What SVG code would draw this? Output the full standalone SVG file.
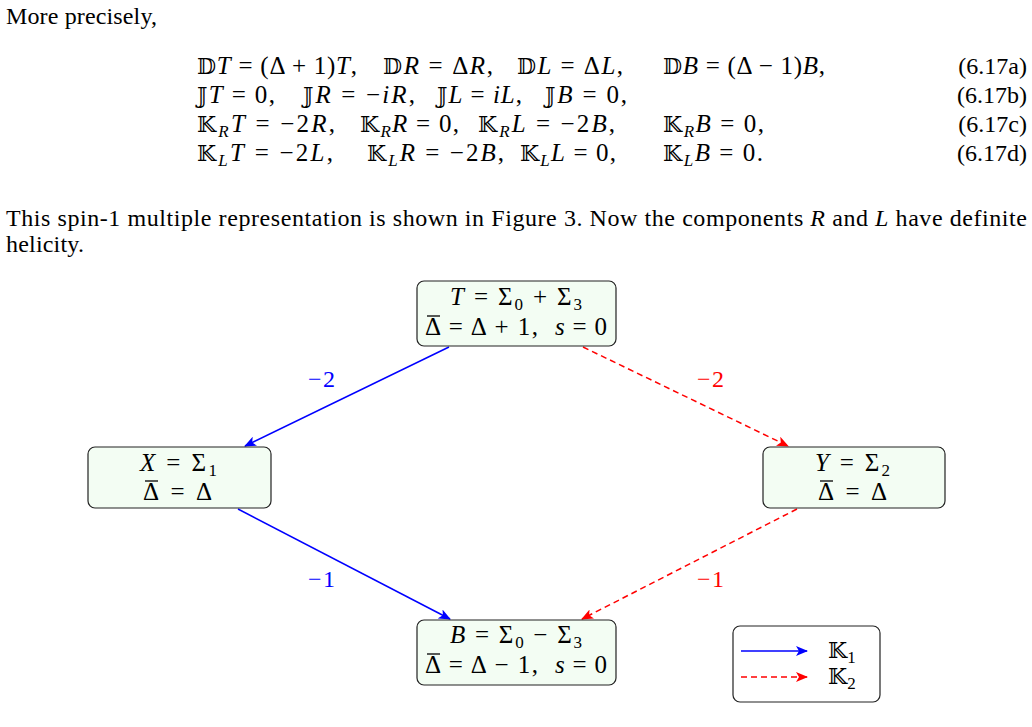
<svg xmlns="http://www.w3.org/2000/svg" width="1032" height="727" viewBox="0 0 1032 727">
<style>
text{font-family:"Liberation Serif","DejaVu Serif",serif;font-size:24px;fill:#000}
.m{font-size:25px}
.i{font-style:italic}
.bb{font-family:"DejaVu Serif","DejaVu Sans",serif;font-style:normal;font-size:22px}
.s{font-size:17px}
.c{text-anchor:middle}
.e{text-anchor:end}
.node rect{fill:#f3fdf3;stroke:#222;stroke-width:1.2}
.mac{stroke:#000;stroke-width:1.3}
.blue{stroke:#0000ff;stroke-width:1.5;fill:none}
.red{stroke:#ff0000;stroke-width:1.5;fill:none;stroke-dasharray:6 4}
.lb{fill:#0000ff}
.lr{fill:#ff0000}
</style>
<defs>
<marker id="ab" markerWidth="12" markerHeight="10" refX="11" refY="5" orient="auto" markerUnits="userSpaceOnUse"><path d="M0,0 L12,5 L0,10 L3,5 Z" fill="#0000ff"/></marker>
<marker id="ar" markerWidth="12" markerHeight="10" refX="11" refY="5" orient="auto" markerUnits="userSpaceOnUse"><path d="M0,0 L12,5 L0,10 L3,5 Z" fill="#ff0000"/></marker>
</defs>

<text x="6" y="24" textLength="151">More precisely,</text>

<g id="equations">
<text class="m" x="197" y="74" textLength="160"><tspan class="bb">𝔻</tspan><tspan class="i">T</tspan> = (Δ + 1)<tspan class="i">T</tspan>,</text>
<text class="m" x="383" y="74" textLength="110"><tspan class="bb">𝔻</tspan><tspan class="i">R</tspan> = Δ<tspan class="i">R</tspan>,</text>
<text class="m" x="517" y="74" textLength="106"><tspan class="bb">𝔻</tspan><tspan class="i">L</tspan> = Δ<tspan class="i">L</tspan>,</text>
<text class="m" x="663" y="74" textLength="162"><tspan class="bb">𝔻</tspan><tspan class="i">B</tspan> = (Δ − 1)<tspan class="i">B</tspan>,</text>
<text x="1027" y="74" class="e">(6.17a)</text>

<text class="m" x="197" y="103" textLength="78"><tspan class="bb">𝕁</tspan><tspan class="i">T</tspan> = 0,</text>
<text class="m" x="303" y="103" textLength="112"><tspan class="bb">𝕁</tspan><tspan class="i">R</tspan> = −<tspan class="i">iR</tspan>,</text>
<text class="m" x="437" y="103" textLength="85"><tspan class="bb">𝕁</tspan><tspan class="i">L</tspan> = <tspan class="i">iL</tspan>,</text>
<text class="m" x="545" y="103" textLength="82"><tspan class="bb">𝕁</tspan><tspan class="i">B</tspan> = 0,</text>
<text x="1027" y="103" class="e">(6.17b)</text>

<text class="m" x="197" y="132" textLength="138"><tspan class="bb">𝕂</tspan><tspan class="i s" dy="5">R</tspan><tspan class="i" dy="-5">T</tspan> = −2<tspan class="i">R</tspan>,</text>
<text class="m" x="360" y="132" textLength="99"><tspan class="bb">𝕂</tspan><tspan class="i s" dy="5">R</tspan><tspan class="i" dy="-5">R</tspan> = 0,</text>
<text class="m" x="478" y="132" textLength="137"><tspan class="bb">𝕂</tspan><tspan class="i s" dy="5">R</tspan><tspan class="i" dy="-5">L</tspan> = −2<tspan class="i">B</tspan>,</text>
<text class="m" x="663" y="132" textLength="101"><tspan class="bb">𝕂</tspan><tspan class="i s" dy="5">R</tspan><tspan class="i" dy="-5">B</tspan> = 0,</text>
<text x="1027" y="132" class="e">(6.17c)</text>

<text class="m" x="197" y="161" textLength="136"><tspan class="bb">𝕂</tspan><tspan class="i s" dy="5">L</tspan><tspan class="i" dy="-5">T</tspan> = −2<tspan class="i">L</tspan>,</text>
<text class="m" x="367" y="161" textLength="137"><tspan class="bb">𝕂</tspan><tspan class="i s" dy="5">L</tspan><tspan class="i" dy="-5">R</tspan> = −2<tspan class="i">B</tspan>,</text>
<text class="m" x="520" y="161" textLength="96"><tspan class="bb">𝕂</tspan><tspan class="i s" dy="5">L</tspan><tspan class="i" dy="-5">L</tspan> = 0,</text>
<text class="m" x="663" y="161" textLength="100"><tspan class="bb">𝕂</tspan><tspan class="i s" dy="5">L</tspan><tspan class="i" dy="-5">B</tspan> = 0.</text>
<text x="1027" y="161" class="e">(6.17d)</text>
</g>

<text x="6" y="226" textLength="1021" lengthAdjust="spacing">This spin-1 multiple representation is shown in Figure 3. Now the components <tspan class="i">R</tspan> and <tspan class="i">L</tspan> have definite</text>
<text x="6" y="252" textLength="78">helicity.</text>

<g id="connectors">
<line class="blue" x1="449" y1="347" x2="245" y2="446" marker-end="url(#ab)"/>
<line class="red" x1="583" y1="347" x2="788" y2="446" marker-end="url(#ar)"/>
<line class="blue" x1="238" y1="509" x2="450" y2="619" marker-end="url(#ab)"/>
<line class="red" x1="797" y1="509" x2="582" y2="619" marker-end="url(#ar)"/>
<text x="308" y="387" textLength="27" class="lb">−2</text>
<text x="697" y="387" textLength="27" class="lr">−2</text>
<text x="308" y="587" textLength="27" class="lb">−1</text>
<text x="697" y="587" textLength="27" class="lr">−1</text>
</g>

<g id="node-T" class="node">
<rect x="417" y="281" width="199" height="65" rx="7"/>
<text class="m" x="450" y="305" textLength="132"><tspan class="i">T</tspan> = Σ<tspan class="s" dy="5">0</tspan><tspan dy="-5"> + Σ</tspan><tspan class="s" dy="5">3</tspan></text>
<text class="m" x="425" y="335" textLength="113">Δ = Δ + 1,</text>
<line class="mac" x1="427" y1="316" x2="440" y2="316"/>
<text class="m" x="555" y="335" textLength="52"><tspan class="i">s</tspan> = 0</text>
</g>

<g id="node-X" class="node">
<rect x="88" y="447" width="183" height="61" rx="7"/>
<text class="m" x="140" y="471" textLength="77"><tspan class="i">X</tspan> = Σ<tspan class="s" dy="5">1</tspan></text>
<text class="m" x="143" y="500" textLength="69">Δ = Δ</text>
<line class="mac" x1="145" y1="481" x2="158" y2="481"/>
</g>

<g id="node-Y" class="node">
<rect x="763" y="447" width="182" height="61" rx="7"/>
<text class="m" x="815" y="471" textLength="75"><tspan class="i">Y</tspan> = Σ<tspan class="s" dy="5">2</tspan></text>
<text class="m" x="818" y="500" textLength="69">Δ = Δ</text>
<line class="mac" x1="820" y1="481" x2="833" y2="481"/>
</g>

<g id="node-B" class="node">
<rect x="417" y="620" width="199" height="65" rx="7"/>
<text class="m" x="450" y="643" textLength="132"><tspan class="i">B</tspan> = Σ<tspan class="s" dy="5">0</tspan><tspan dy="-5"> − Σ</tspan><tspan class="s" dy="5">3</tspan></text>
<text class="m" x="425" y="673" textLength="113">Δ = Δ − 1,</text>
<line class="mac" x1="427" y1="654" x2="440" y2="654"/>
<text class="m" x="555" y="673" textLength="52"><tspan class="i">s</tspan> = 0</text>
</g>

<g id="legend">
<rect x="733" y="626" width="147" height="76" rx="7" fill="#fff" stroke="#222" stroke-width="1.2"/>
<line class="blue" x1="741" y1="651" x2="807" y2="651" marker-end="url(#ab)"/>
<line class="red" x1="741" y1="677" x2="807" y2="677" marker-end="url(#ar)"/>
<text x="828" y="658"><tspan class="bb">𝕂</tspan><tspan class="s" dy="5">1</tspan></text>
<text x="828" y="684"><tspan class="bb">𝕂</tspan><tspan class="s" dy="5">2</tspan></text>
</g>
</svg>
